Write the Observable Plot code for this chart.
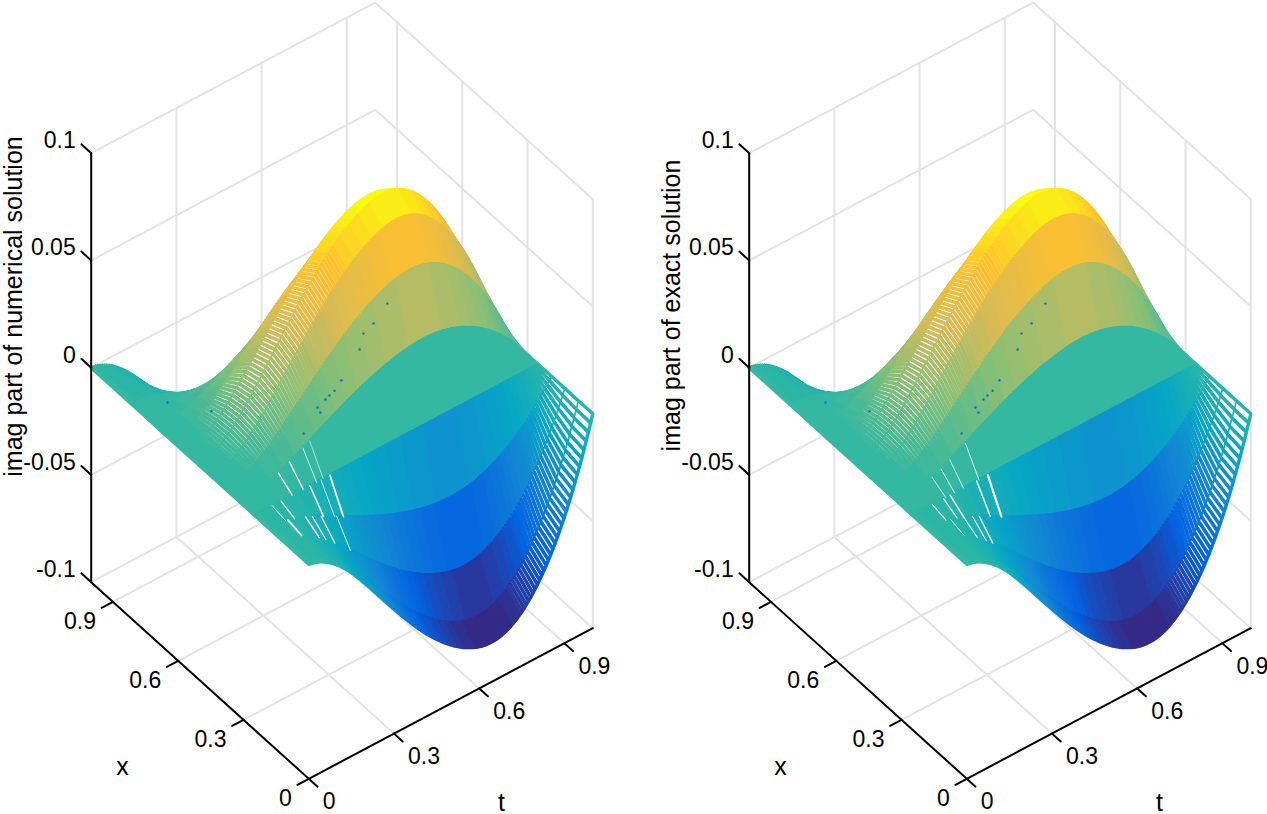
<!DOCTYPE html>
<html>
<head>
<meta charset="utf-8">
<script src="https://cdn.jsdelivr.net/npm/d3@7"></script>
<script src="https://cdn.jsdelivr.net/npm/@observablehq/plot@0.6"></script>
<style>
html,body{margin:0;padding:0;background:#fff}
#row{display:flex;width:1267px;height:814px;overflow:hidden}
svg{display:block;flex:none}
</style>
</head>
<body>
<div id="row"></div>
<script>
// Height of the crest along t, read from the lower silhouette (x = 0 edge), one station per 1/128 of t
const crestByT = [
0,.00019,.00045,.00077,.00116,.00162,.00215,.00274,.00339,.00410,.00486,.00568,.00656,.00750,.00849,.00953,
.01062,.01176,.01295,.01419,.01547,.01678,.01812,.01948,.02087,.02229,.02373,.02518,.02664,.02810,.02957,.03105,
.03253,.03401,.03549,.03696,.03843,.03989,.04135,.04280,.04424,.04566,.04707,.04846,.04984,.05120,.05255,.05388,
.05519,.05648,.05775,.05900,.06023,.06143,.06260,.06374,.06485,.06593,.06698,.06800,.06898,.06996,.07089,.07180,
.07267,.07351,.07432,.07508,.07581,.07650,.07716,.07778,.07836,.07890,.07938,.07983,.08022,.08058,.08088,.08111,
.08129,.08140,.08146,.08145,.08137,.08123,.08101,.08072,.08035,.07992,.07942,.07883,.07818,.07744,.07664,.07577,
.07481,.07379,.07268,.07150,.07025,.06891,.06750,.06600,.06443,.06277,.06104,.05923,.05733,.05535,.05328,.05113,
.04889,.04655,.04414,.04163,.03904,.03635,.03355,.03066,.02766,.02457,.02137,.01808,.01468,.01116,.00755,.00382,0];

// Share of the crest reached at each of the 17 x stations (the arcs of the surface)
const shareByX = [-1,-.924,-.707,-.383,0,.383,.707,.924,1,.924,.707,.383,0,-.383,-.707,-.924,-1];

// Mesh gaps seen in each picture: which x band, at which t, how wide
const gapBandLeft = [3,3,3,4,4,4,4,2,2,2,2,3,3,2];
const gapTLeft    = [.196,.235,.263,.135,.170,.2155,.245,.13,.157,.1845,.242,.065,.0926,.068];
const gapWideLeft = [1.6,.8,1.8,1.4,1.3,.8,.6,1.5,1.1,1.2,1.0,.9,1.3,1.9];
const gapBandRight = [3,3,4,4,4,4,3,3,3,2,2,2,2];
const gapTRight    = [.265,.226,.231,.176,.148,.119,.132,.106,.067,.191,.161,.132,.086];
const gapWideRight = [2.2,1.5,.9,.8,.9,.8,1.5,1.2,1.2,1.3,1.2,1.1,.8];

// Stray blue specks on the surface: t, x, z
const speckT = [.545,.496,.461,.447,.383,.327,.299,.077,.117,.25,.341,.359,.309];
const speckX = [.35,.35,.35,.35,.35,.35,.35,.75,.6,.35,.35,.35,.35];
const speckZ = [.0512,.0454,.0431,.0367,.0268,.0218,.02,.0013,.0082,.0114,.0227,.0236,.017];

const zTicks = [-0.1,-0.05,0,0.05,0.1];
const zTickLabels = ["-0.1","-0.05","0","0.05","0.1"];
const gridTicks = [0.3,0.6,0.9];
const axisTicks = [0,0.3,0.6,0.9];
const axisTickLabels = ["0","0.3","0.6","0.9"];
const zLabels = ["imag part of numerical solution","imag part of exact solution"];
const zLabelY = [306,305];

const parula = ["#352a87","#0363e1","#1485d4","#06a7c6","#2eb7a4","#87bf77","#d5bb58","#fec02e","#f9fb0e"];
const zExtent = [-0.0815,0.0815];
const colorLevels = d3.quantize(d3.piecewise(d3.interpolateRgb,parula),64);

// The camera: how one unit along t, x and the z range shows up on the page
const origin = [308.3,778.3], tStep = [284,-150.6], xStep = [-217.6,-196.6], zStep = [0,-429];
const H = 814, FONT = "'Liberation Sans',Arial,Helvetica,sans-serif", FS = 23, FSL = 25;
const GRID = "#e3e3e3";

function pt(t,x,z){
  const k=(z+0.1)/0.2;
  return {px:origin[0]+t*tStep[0]+x*xStep[0]+k*zStep[0], py:origin[1]+t*tStep[1]+x*xStep[1]+k*zStep[1]};
}

const nT = crestByT.length-1, nX = shareByX.length-1;
const cells = [];
for(let k=nX-1;k>=0;k--){
  for(let j=nT-1;j>=0;j--){
    const id=k*1000+j, v=crestByT[j]*shareByX[k];
    const corner=(jj,kk)=>Object.assign(pt(jj/nT,kk/nX,crestByT[jj]*shareByX[kk]),{id,v});
    cells.push(corner(j,k+1),corner(j,k),corner(j+1,k),corner(j+1,k+1));
  }
}

function gapLines(bands,ts,wides){
  const out=[];
  bands.forEach((k,i)=>{
    const j=Math.round(ts[i]*nT);
    [k,k+1].forEach(kk=>out.push(Object.assign(pt(j/nT,kk/nX,crestByT[j]*shareByX[kk]),{id:i,w:wides[i]})));
  });
  return out;
}
const gaps=[gapLines(gapBandLeft,gapTLeft,gapWideLeft),gapLines(gapBandRight,gapTRight,gapWideRight)];
const specks=speckT.map((t,i)=>pt(t,speckX[i],speckZ[i]));

const grid=[]; let gid=0;
const path=(pts)=>{gid++;pts.forEach(p=>grid.push(Object.assign(pt(...p),{id:gid})));};
zTicks.forEach(z=>path([[0,1,z],[1,1,z],[1,0,z]]));
gridTicks.forEach(t=>{path([[t,1,-0.1],[t,1,0.1]]);path([[t,0,-0.1],[t,1,-0.1]]);});
[0,...gridTicks].forEach(x=>path([[1,x,-0.1],[1,x,0.1]]));
gridTicks.forEach(x=>path([[0,x,-0.1],[1,x,-0.1]]));

const axes=[]; let aid=0;
const apath=(pts)=>{aid++;pts.forEach(p=>axes.push(Object.assign(pt(...p),{id:aid})));};
apath([[0,1,0.1],[0,1,-0.1],[0,0,-0.1],[1,0,-0.1]]);
zTicks.forEach(z=>apath([[0,1,z],[0,1.045,z]]));
axisTicks.forEach(x=>apath([[0,x,-0.1],[-0.04,x,-0.1]]));
axisTicks.forEach(t=>apath([[t,0,-0.1],[t,-0.04,-0.1]]));

const shift=(p,dx,dy)=>({px:p.px+dx,py:p.py+dy});
const zTickText=zTicks.map((z,i)=>({...shift(pt(0,1,z),-15.5,-12.5),s:zTickLabels[i]}));
const xTickText=axisTicks.map((x,i)=>({...shift(pt(0,x,-0.1),-17,20),s:axisTickLabels[i]}));
const tTickText=axisTicks.map((t,i)=>({...shift(pt(t,0,-0.1),14,23),s:axisTickLabels[i]}));

function panel(i){
  const w = i===0 ? 658 : 609;
  return Plot.plot({
    width:w,height:H,margin:0,
    x:{domain:[0,w],range:[0,w],axis:null},
    y:{domain:[0,H],range:[0,H],axis:null},
    color:{type:"quantize",domain:zExtent,range:colorLevels},
    style:{fontFamily:FONT,background:"#fff"},
    marks:[
      Plot.line(grid,{x:"px",y:"py",z:"id",stroke:GRID,strokeWidth:2}),
      Plot.line(cells,{x:"px",y:"py",z:"id",stroke:"v",fill:"white",strokeWidth:3.4,strokeLinejoin:"bevel"}),
      Plot.line(gaps[i],{x:"px",y:"py",z:"id",stroke:"white",strokeWidth:"w"}),
      Plot.dot(specks,{x:"px",y:"py",r:1.2,fill:"#1466e0",stroke:null}),
      Plot.line(axes,{x:"px",y:"py",z:"id",stroke:"#000",strokeWidth:2}),
      Plot.text(zTickText,{x:"px",y:"py",text:"s",textAnchor:"end",fontSize:FS,fill:"#000"}),
      Plot.text(xTickText,{x:"px",y:"py",text:"s",textAnchor:"end",fontSize:FS,fill:"#000"}),
      Plot.text(tTickText,{x:"px",y:"py",text:"s",textAnchor:"start",fontSize:FS,fill:"#000"}),
      Plot.text([{px:122,py:766,s:"x"},{px:501,py:802,s:"t"}],{x:"px",y:"py",text:"s",fontSize:FSL,fill:"#000"}),
      Plot.text([{px:13,py:zLabelY[i],s:zLabels[i]}],{x:"px",y:"py",text:"s",rotate:-90,fontSize:FSL,fill:"#000"})
    ]
  });
}
const row=document.getElementById("row");
row.append(panel(0),panel(1));
</script>
</body>
</html>
